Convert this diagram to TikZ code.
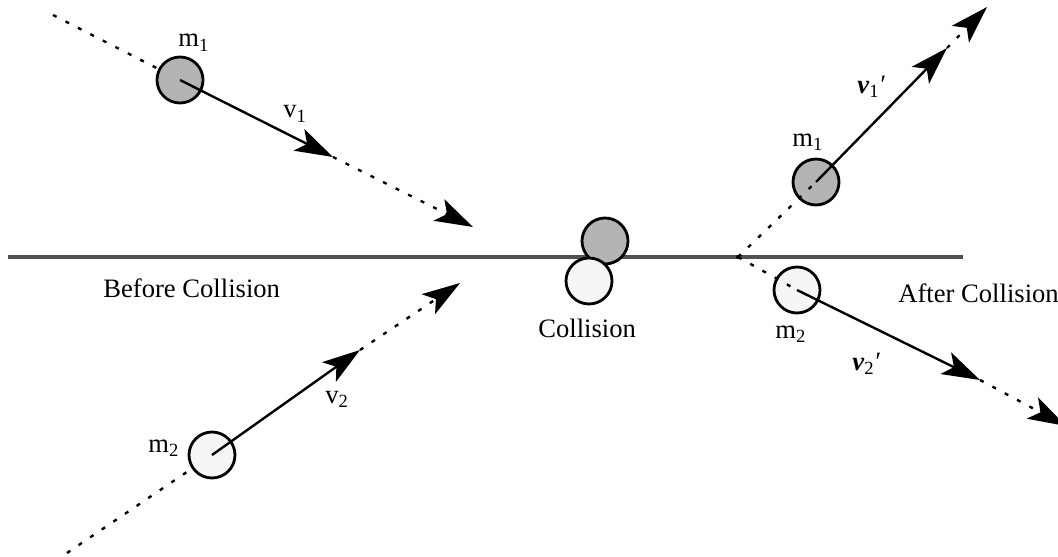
\documentclass[tikz,border=0pt]{standalone}
\usepackage{fontspec}
\setmainfont{Liberation Serif}
\usepackage{tikz}
\usetikzlibrary{arrows.meta}
\definecolor{ballgray}{RGB}{180,180,180}
\definecolor{balllight}{RGB}{245,245,245}
\definecolor{floorgray}{RGB}{80,80,80}

\begin{document}
\begin{tikzpicture}[x=0.5pt, y=-0.5pt,
        ball/.style={circle, draw, line width=1.4pt, minimum size=23pt, inner sep=0pt},
        vel/.style={line width=1.2pt, -{Stealth[length=19pt, width=12pt, inset=4.5pt]}},
        trail/.style={line width=1.2pt, dash pattern=on 2pt off 5pt},
        lbl/.style={font=\fontsize{13.3}{15}\selectfont, inner sep=0pt, anchor=base west}
    ]
    \useasboundingbox (0,0) rectangle (1058,556);
    \node[inner sep=0pt, minimum size=0pt] (floorL) at (8,257) {};
    \node[inner sep=0pt, minimum size=0pt] (floorR) at (963,257) {};
    \draw[floorgray, line width=1.6pt] (floorL) -- (floorR);
    \coordinate (split) at (738,257);
    \coordinate (b1start) at (53,15);
    \coordinate (b1tip) at (333,157);
    \coordinate (b1end) at (473,227);
    \coordinate (b2start) at (67,553);
    \coordinate (b2tip) at (360,350);
    \coordinate (b2end) at (460,283);
    \coordinate (a1tip) at (947,48);
    \coordinate (a1end) at (987,7);
    \coordinate (a2tip) at (980,380);
    \coordinate (a2end) at (1066,426);
    \draw[trail] (b1start) -- (180,80);
    \draw[trail] (b2start) -- (212,455);
    \node[ball, fill=ballgray] (b1) at (180,80) {};
    \node[ball, fill=balllight] (b2) at (212,455) {};
    \draw[vel] (b1.center) -- (b1tip);
    \draw[trail, vel] (b1tip) -- (b1end);
    \draw[vel] (b2.center) -- (b2tip);
    \draw[trail, vel] (b2tip) -- (b2end);
    \node[ball, fill=ballgray] (c1) at (605,241) {};
    \node[ball, fill=balllight] (c2) at (589,281) {};
    \node[ball, fill=ballgray] (a1) at (816,182) {};
    \node[ball, fill=balllight] (a2) at (797,290) {};
    \fill (split) circle (1pt);
    \draw[trail] (split) -- (a1.center);
    \draw[trail] (split) -- (a2.center);
    \draw[vel] (a1.center) -- (a1tip);
    \draw[trail, vel] (a1tip) -- (a1end);
    \draw[vel] (a2.center) -- (a2tip);
    \draw[trail, vel] (a2tip) -- (a2end);
    \node[lbl] (b1m) at (178,47) {m\textsubscript{1}};
    \node[lbl] (b1v) at (283,118) {v\textsubscript{1}};
    \node[lbl] (b2m) at (148,452) {m\textsubscript{2}};
    \node[lbl] (b2v) at (325,403) {v\textsubscript{2}};
    \node[lbl] (before) at (103,297) {Before Collision};
    \node[lbl] (during) at (538,337) {Collision};
    \node[lbl] (a1m) at (792,146) {m\textsubscript{1}};
    \node[lbl] (a1v) at (857,93) {\textbf{\textit{v}}\textsubscript{1}\kern-0.5pt\textit{\char"2032}};
    \node[lbl] (a2m) at (775,338) {m\textsubscript{2}};
    \node[lbl] (a2v) at (852,370) {\textbf{\textit{v}}\textsubscript{2}\kern-0.5pt\textit{\char"2032}};
    \node[lbl] (after) at (898,302) {After Collision};
\end{tikzpicture}
\end{document}
